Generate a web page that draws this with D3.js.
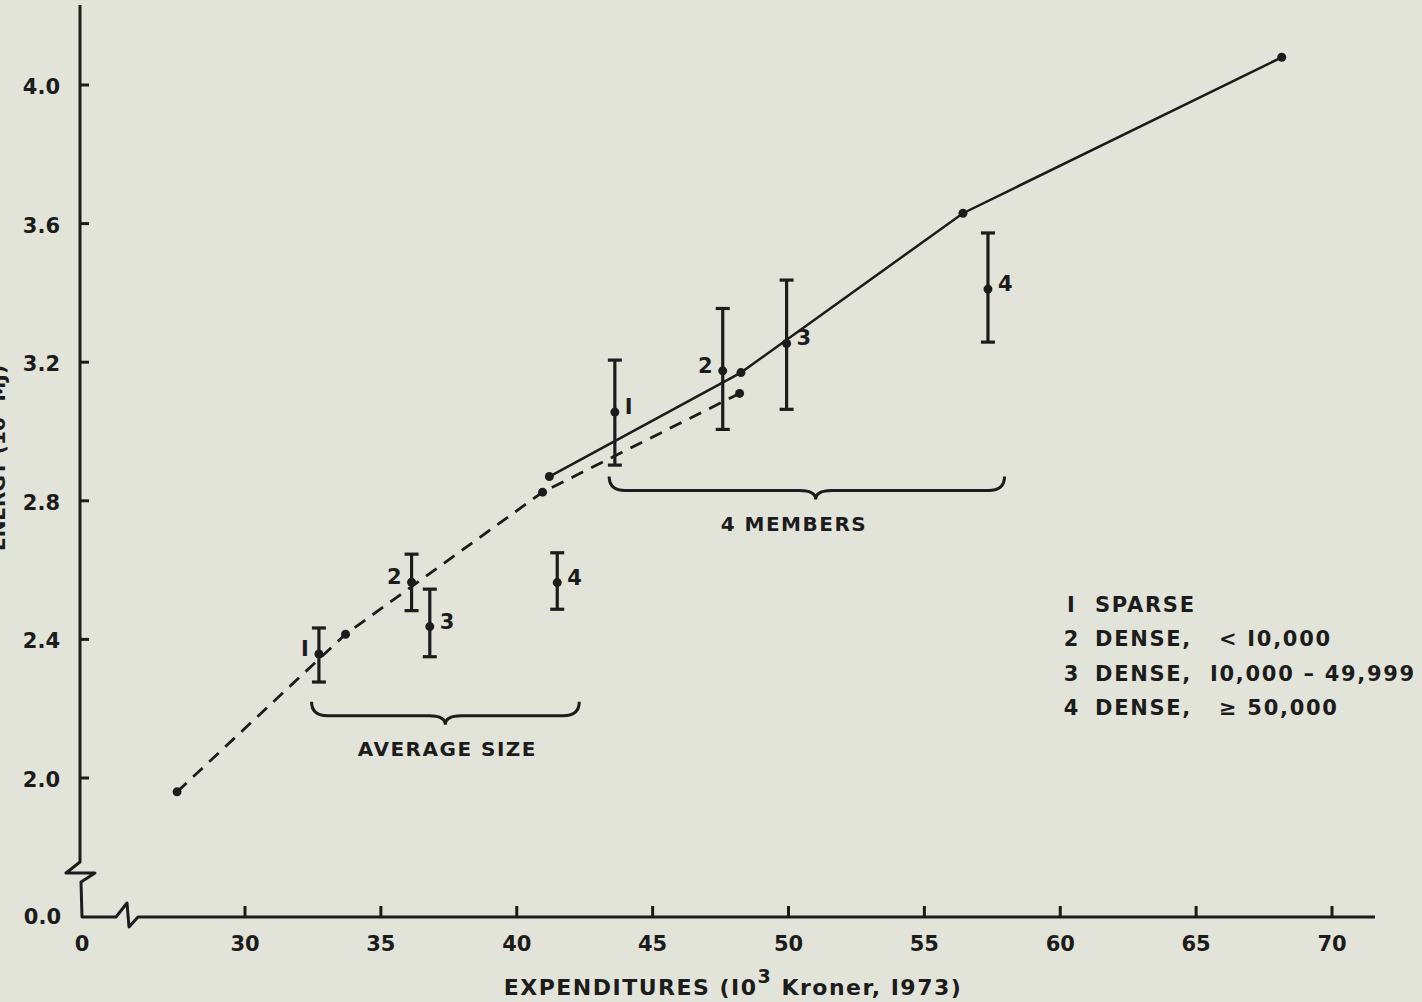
<!DOCTYPE html>
<html>
<head>
<meta charset="utf-8">
<script src="https://cdn.jsdelivr.net/npm/d3@7"></script>
<style>
  html, body { margin: 0; padding: 0; background: #e3e4d9; }
  svg { display: block; }
  text { font-family: "DejaVu Sans", sans-serif; fill: #1c1c1c; font-weight: bold; }
</style>
</head>
<body>
<div id="chart"></div>
<script>
// data
const xTicks = [30, 35, 40, 45, 50, 55, 60, 65, 70]
const yTicks = [2.0, 2.4, 2.8, 3.2, 3.6, 4.0]

const dashedX = [27.5, 33.7, 40.95, 48.2]
const dashedY = [1.96, 2.415, 2.825, 3.11]

const solidX = [41.2, 48.25, 56.42, 68.15]
const solidY = [2.87, 3.17, 3.63, 4.08]

// error bars: average size group
const avgX = [32.72, 36.13, 36.8, 41.49]
const avgMid = [2.358, 2.565, 2.437, 2.564]
const avgLo = [2.277, 2.483, 2.35, 2.487]
const avgHi = [2.433, 2.646, 2.545, 2.65]
const avgLabelSide = ['left', 'left', 'right', 'right']

// error bars: 4 members group
const memX = [43.61, 47.58, 49.93, 57.34]
const memMid = [3.056, 3.175, 3.254, 3.411]
const memLo = [2.903, 3.006, 3.064, 3.258]
const memHi = [3.206, 3.355, 3.437, 3.573]
const memLabelSide = ['right', 'left', 'right', 'right']

const groupNames = ['AVERAGE SIZE', '4 MEMBERS']
const groupSpan = [[32.45, 42.3], [43.4, 57.95]]
const groupTip = [37.37, 51.0]
const groupLabelX = [37.45, 50.2]
const groupLevel = [2.22, 2.87]

const legendNums = ['I', '2', '3', '4']
const legendText = ['SPARSE', 'DENSE,   < I0,000', 'DENSE,  I0,000 \u2013 49,999', 'DENSE,   \u2265 50,000']

const W = 1422, H = 1002
const ink = '#1c1c1c'

let svg = d3.select('#chart')
          .append('svg')
          .attr('width', W)
          .attr('height', H)
          .style('background', '#e3e4d9')

let x = d3.scaleLinear().domain([30, 70]).range([245, 1332])
let y = d3.scaleLinear().domain([2.0, 4.0]).range([778, 85])

const axisX = 80, axisY = 917, zeroX = 82

// axes with breaks
let axisPath = d3.path()
axisPath.moveTo(axisX, 5)
axisPath.lineTo(axisX, 862)
axisPath.lineTo(66, 873)
axisPath.lineTo(95, 873)
axisPath.lineTo(81, 882)
axisPath.lineTo(zeroX, axisY)
axisPath.lineTo(116, axisY)
axisPath.lineTo(127, 903)
axisPath.lineTo(129, 927)
axisPath.lineTo(138, axisY)
axisPath.lineTo(1375, axisY)
svg.append('path').attr('d', axisPath.toString())
   .attr('fill', 'none').attr('stroke', ink).attr('stroke-width', 3).attr('stroke-linejoin', 'round')

// y ticks
svg.selectAll('.ytick').data(yTicks).enter().append('line')
   .attr('x1', axisX).attr('x2', axisX + 9)
   .attr('y1', d => y(d)).attr('y2', d => y(d))
   .attr('stroke', ink).attr('stroke-width', 3)
svg.selectAll('.ylab').data(yTicks).enter().append('text')
   .attr('x', 60).attr('y', d => y(d) + 9)
   .attr('text-anchor', 'end').attr('font-size', 21)
   .text(d => d.toFixed(1))
svg.append('text').attr('x', 61).attr('y', axisY + 7)
   .attr('text-anchor', 'end').attr('font-size', 21).text('0.0')

// x ticks
svg.selectAll('.xtick').data(xTicks).enter().append('line')
   .attr('x1', d => x(d)).attr('x2', d => x(d))
   .attr('y1', axisY).attr('y2', axisY - 11)
   .attr('stroke', ink).attr('stroke-width', 3)
svg.selectAll('.xlab').data(xTicks).enter().append('text')
   .attr('x', d => x(d)).attr('y', 951)
   .attr('text-anchor', 'middle').attr('font-size', 21)
   .text(d => d)
svg.append('text').attr('x', zeroX).attr('y', 951)
   .attr('text-anchor', 'middle').attr('font-size', 21).text('0')

// axis titles
let xt = svg.append('text').attr('x', 733).attr('y', 995)
   .attr('text-anchor', 'middle').attr('font-size', 22).attr('letter-spacing', 1.5)
xt.append('tspan').text('EXPENDITURES (I0')
xt.append('tspan').attr('dy', -12).attr('font-size', 19).text('3')
xt.append('tspan').attr('dy', 12).text(' Kroner, I973)')

svg.append('text')
   .attr('transform', 'translate(5,458) rotate(-90)')
   .attr('text-anchor', 'middle').attr('font-size', 20)
   .text('ENERGY (10\u2075 MJ)')

// lines
let line = d3.line().x(d => x(d[0])).y(d => y(d[1]))
let dashedPts = dashedX.map((v, i) => [v, dashedY[i]])
svg.append('path').attr('d', line(dashedPts))
   .attr('fill', 'none').attr('stroke', ink).attr('stroke-width', 2.8)
   .attr('stroke-dasharray', '13,9')
svg.selectAll('.ddot').data(dashedPts).enter().append('circle')
   .attr('cx', d => x(d[0])).attr('cy', d => y(d[1])).attr('r', 4.5).attr('fill', ink)

let solidPts = solidX.map((v, i) => [v, solidY[i]])
svg.append('path').attr('d', line(solidPts))
   .attr('fill', 'none').attr('stroke', ink).attr('stroke-width', 2.5)
svg.selectAll('.sdot').data(solidPts).enter().append('circle')
   .attr('cx', d => x(d[0])).attr('cy', d => y(d[1])).attr('r', 4.5).attr('fill', ink)

// error bars
function errorBars(xs, mids, los, his, sides) {
  let g = svg.append('g')
  xs.forEach((v, i) => {
    let px = x(v)
    g.append('line').attr('x1', px).attr('x2', px).attr('y1', y(los[i])).attr('y2', y(his[i]))
     .attr('stroke', ink).attr('stroke-width', 3.2)
    ;[los[i], his[i]].forEach(c => {
      g.append('line').attr('x1', px - 7).attr('x2', px + 7).attr('y1', y(c)).attr('y2', y(c))
       .attr('stroke', ink).attr('stroke-width', 3.2)
    })
    g.append('circle').attr('cx', px).attr('cy', y(mids[i])).attr('r', 4.5).attr('fill', ink)
    let left = sides[i] == 'left'
    g.append('text')
     .attr('x', left ? px - 10 : px + 10)
     .attr('y', y(mids[i]) + 2)
     .attr('text-anchor', left ? 'end' : 'start')
     .attr('font-size', 21)
     .text(i == 0 ? 'I' : i + 1)
  })
}
errorBars(avgX, avgMid, avgLo, avgHi, avgLabelSide)
errorBars(memX, memMid, memLo, memHi, memLabelSide)

// braces
groupNames.forEach((name, i) => {
  let x0 = x(groupSpan[i][0]), x1 = x(groupSpan[i][1])
  let t = y(groupLevel[i]), m = t + 14, tip = t + 23
  let xc = x(groupTip[i])
  let p = d3.path()
  p.moveTo(x0, t)
  p.quadraticCurveTo(x0, m, x0 + 16, m)
  p.lineTo(xc - 16, m)
  p.quadraticCurveTo(xc, m, xc, tip)
  p.quadraticCurveTo(xc, m, xc + 16, m)
  p.lineTo(x1 - 16, m)
  p.quadraticCurveTo(x1, m, x1, t)
  svg.append('path').attr('d', p.toString())
     .attr('fill', 'none').attr('stroke', ink).attr('stroke-width', 3)
  svg.append('text').attr('x', x(groupLabelX[i])).attr('y', tip + 31)
     .attr('text-anchor', 'middle').attr('font-size', 20).attr('letter-spacing', 1.5)
     .text(name)
})

// legend
svg.selectAll('.legn').data(legendNums).enter().append('text')
   .attr('x', 1071).attr('y', (d, i) => 612 + i * 34.3)
   .attr('text-anchor', 'middle').attr('font-size', 21)
   .text(d => d)
svg.selectAll('.legt').data(legendText).enter().append('text')
   .attr('x', 1095).attr('y', (d, i) => 612 + i * 34.3)
   .attr('font-size', 21).attr('letter-spacing', 1.7)
   .style('white-space', 'pre')
   .text(d => d)
</script>
</body>
</html>
